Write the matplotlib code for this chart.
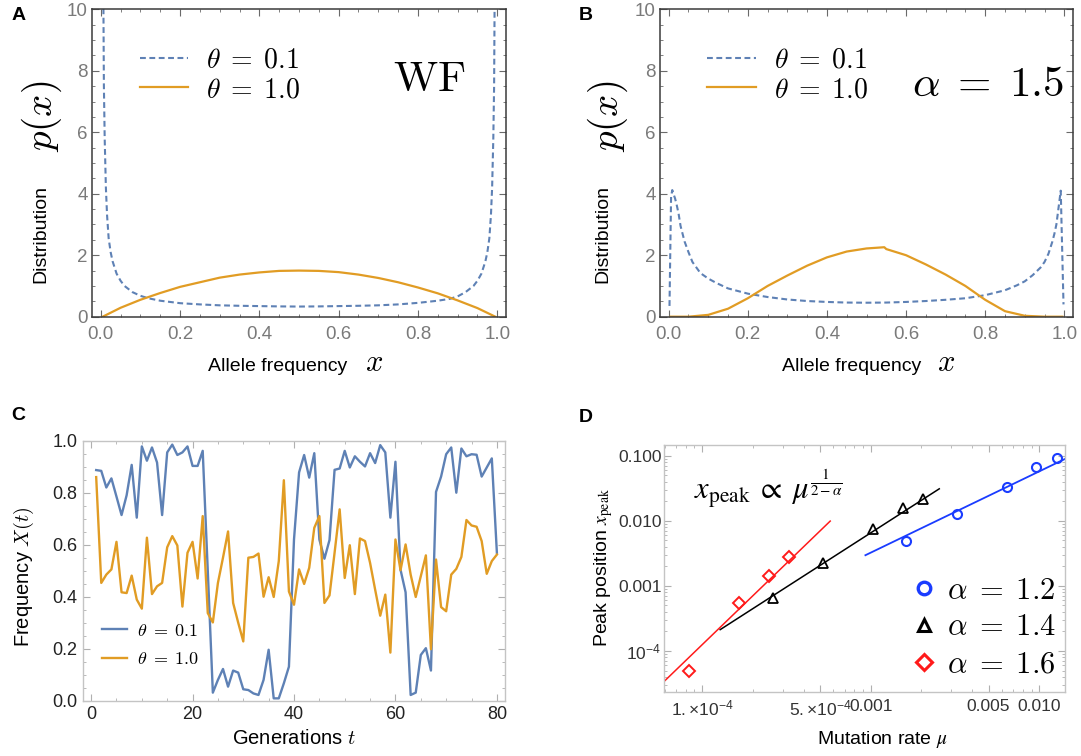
import numpy as np
import matplotlib
matplotlib.use('Agg')
import matplotlib.pyplot as plt
from matplotlib.lines import Line2D
from matplotlib.ticker import FixedLocator, MultipleLocator, NullFormatter, FixedFormatter

plt.rcParams['font.family'] = ['Liberation Sans', 'DejaVu Sans']
plt.rcParams['mathtext.fontset'] = 'cm'

BLUE = '#5E81B5'
ORANGE = '#E19C24'

# ---------------- Panel A data (WF) ----------------
a_blue_x = [0.005, 0.008, 0.01, 0.013, 0.016, 0.02, 0.025, 0.03, 0.04, 0.05, 0.06, 0.08,
            0.10, 0.12, 0.15, 0.20, 0.25, 0.30, 0.35, 0.40, 0.45, 0.50,
            0.55, 0.60, 0.65, 0.70, 0.75, 0.80, 0.85, 0.88, 0.90, 0.92, 0.94, 0.95,
            0.96, 0.97, 0.975, 0.98, 0.984, 0.987, 0.99, 0.992, 0.995]
a_blue_y = [14, 7.5, 5.8, 4.2, 3.3, 2.55, 2.1, 1.8, 1.4, 1.17, 1.0, 0.8,
            0.68, 0.6, 0.52, 0.44, 0.40, 0.37, 0.355, 0.345, 0.335, 0.33,
            0.335, 0.345, 0.355, 0.37, 0.40, 0.45, 0.52, 0.58, 0.66, 0.8, 1.0, 1.17,
            1.4, 1.8, 2.1, 2.55, 3.3, 4.2, 5.8, 7.5, 14]
a_orange_x = [0.005, 0.05, 0.10, 0.15, 0.20, 0.25, 0.30, 0.35, 0.40, 0.45, 0.50,
              0.55, 0.60, 0.65, 0.70, 0.75, 0.80, 0.85, 0.90, 0.95, 0.995]
a_orange_y = [0.0, 0.29, 0.55, 0.77, 0.97, 1.12, 1.27, 1.37, 1.44, 1.49, 1.50,
              1.49, 1.45, 1.37, 1.26, 1.12, 0.95, 0.76, 0.53, 0.28, 0.0]

# ---------------- Panel B data (alpha = 1.5) ----------------
b_blue_x = [0.002, 0.006, 0.009, 0.012, 0.016, 0.02, 0.025, 0.03, 0.04, 0.05, 0.06, 0.08,
            0.10, 0.12, 0.15, 0.20, 0.25, 0.30, 0.35, 0.40, 0.45, 0.50,
            0.55, 0.60, 0.65, 0.70, 0.75, 0.80, 0.85, 0.88, 0.90, 0.92, 0.94, 0.95,
            0.96, 0.97, 0.975, 0.98, 0.984, 0.988, 0.991, 0.998]
b_blue_y = [0.35, 3.9, 4.12, 4.0, 3.85, 3.65, 3.35, 2.95, 2.45, 2.1, 1.78, 1.42,
            1.24, 1.1, 0.92, 0.75, 0.64, 0.56, 0.51, 0.48, 0.46, 0.455,
            0.46, 0.48, 0.51, 0.55, 0.6, 0.7, 0.86, 1.02, 1.15, 1.35, 1.6, 1.78,
            2.05, 2.45, 2.7, 3.0, 3.4, 3.8, 4.1, 0.4]
b_orange_x = [0.005, 0.05, 0.10, 0.15, 0.20, 0.25, 0.30, 0.35, 0.40, 0.45, 0.50,
              0.545, 0.55, 0.60, 0.65, 0.70, 0.75, 0.80, 0.85, 0.90, 0.95, 0.995]
b_orange_y = [0.0, 0.0, 0.06, 0.26, 0.6, 1.0, 1.34, 1.66, 1.93, 2.12, 2.22,
              2.26, 2.2, 2.0, 1.7, 1.37, 1.0, 0.55, 0.18, 0.03, 0.0, 0.0]

# ---------------- Panel C data (trajectories) ----------------
c_t = list(range(1, 81))
c_blue = [0.887, 0.884, 0.82, 0.855, 0.785, 0.714, 0.79, 0.907, 0.704, 0.978,
          0.923, 0.974, 0.916, 0.714, 0.955, 0.985, 0.945, 0.955, 0.978, 0.903,
          0.903, 0.961, 0.50, 0.031, 0.08, 0.122, 0.054, 0.116, 0.108, 0.044,
          0.041, 0.028, 0.022, 0.08, 0.196, 0.009, 0.009, 0.067, 0.131, 0.62,
          0.878, 0.945, 0.858, 0.952, 0.62, 0.546, 0.618, 0.888, 0.893, 0.961,
          0.897, 0.94, 0.919, 0.901, 0.952, 0.914, 0.983, 0.955, 0.704, 0.919,
          0.504, 0.417, 0.022, 0.031, 0.176, 0.202, 0.116, 0.803, 0.862, 0.948,
          0.974, 0.80, 0.97, 0.94, 0.948, 0.946, 0.862, 0.897, 0.932, 0.569]
c_orange = [0.86, 0.453, 0.485, 0.505, 0.611, 0.417, 0.414, 0.481, 0.389, 0.354,
            0.627, 0.41, 0.44, 0.453, 0.59, 0.633, 0.597, 0.362, 0.569, 0.611,
            0.47, 0.71, 0.337, 0.301, 0.453, 0.55, 0.651, 0.376, 0.30, 0.228,
            0.55, 0.553, 0.566, 0.40, 0.475, 0.399, 0.537, 0.848, 0.42, 0.369,
            0.505, 0.449, 0.511, 0.665, 0.71, 0.376, 0.405, 0.569, 0.736, 0.472,
            0.598, 0.41, 0.624, 0.614, 0.53, 0.427, 0.327, 0.408, 0.185, 0.62,
            0.502, 0.601, 0.485, 0.399, 0.479, 0.559, 0.198, 0.543, 0.36, 0.344,
            0.485, 0.507, 0.553, 0.695, 0.674, 0.669, 0.614, 0.488, 0.537, 0.562]

# ---------------- Panel D data (peak position) ----------------
mu_12 = [1.62e-3, 3.23e-3, 6.41e-3, 9.6e-3, 1.27e-2]
xp_12 = [4.92e-3, 1.27e-2, 3.26e-2, 6.62e-2, 9.1e-2]
mu_14 = [2.62e-4, 5.21e-4, 1.03e-3, 1.55e-3, 2.05e-3]
xp_14 = [6.62e-4, 2.21e-3, 7.36e-3, 1.58e-2, 2.18e-2]
mu_16 = [8.35e-5, 1.66e-4, 2.48e-4, 3.29e-4]
xp_16 = [4.9e-5, 5.47e-4, 1.44e-3, 2.79e-3]
fit_12_mu = [9.3e-4, 1.45e-2]
fit_12_xp = [2.96e-3, 0.0915]
fit_14_mu = [1.28e-4, 2.55e-3]
fit_14_xp = [2.13e-4, 0.031]
fit_16_mu = [5.5e-5, 5.75e-4]
fit_16_xp = [2.8e-5, 9.9e-3]
d_xticks = [1e-4, 5e-4, 1e-3, 5e-3, 1e-2]
d_xticklabels = [r'$\mathregular{1.{\times}10^{-4}}$', r'$\mathregular{5.{\times}10^{-4}}$',
                 '0.001', '0.005', '0.010']
d_yticks = [1e-4, 1e-3, 1e-2, 1e-1]
d_yticklabels = [r'$\mathregular{10^{-4}}$', '0.001', '0.010', '0.100']

W, H = 1081, 756
fig = plt.figure(figsize=(W / 100, H / 100), dpi=100)


def add_ax(l, t, r, b):
    return fig.add_axes([l / W, 1 - b / H, (r - l) / W, (b - t) / H])


def ftext(x, y, s, **kw):
    fig.text(x / W, 1 - y / H, s, **kw)


# ---------------- A and B ----------------
def style_dist(ax):
    ax.set_xlim(-0.022, 1.022)
    ax.set_ylim(0, 10)
    ax.xaxis.set_minor_locator(MultipleLocator(0.05))
    ax.yaxis.set_minor_locator(MultipleLocator(0.5))
    ax.set_xticks([0, 0.2, 0.4, 0.6, 0.8, 1.0])
    ax.set_xticklabels(['0.0', '0.2', '0.4', '0.6', '0.8', '1.0'])
    ax.set_yticks([0, 2, 4, 6, 8, 10])
    ax.set_yticklabels(['0', '2', '4', '6', '8', '10'])
    for s in ax.spines.values():
        s.set_color('#3a3a3a')
        s.set_linewidth(1.1)
    ax.tick_params(which='both', direction='in', top=True, right=True, color='#6a6a6a')
    ax.tick_params(which='major', length=5, width=0.8, labelsize=13.5, labelcolor='#7a7a7a')
    ax.tick_params(axis='x', which='major', pad=7)
    ax.tick_params(axis='y', which='major', pad=3)
    ax.tick_params(which='minor', length=2.5, width=0.6)


axA = add_ax(92, 9.3, 506, 316.7)
axB = add_ax(660, 9.3, 1073, 316.7)
for ax, bx, by, ox, oy in [(axA, a_blue_x, a_blue_y, a_orange_x, a_orange_y),
                           (axB, b_blue_x, b_blue_y, b_orange_x, b_orange_y)]:
    style_dist(ax)
    lb, = ax.plot(bx, by, color=BLUE, lw=1.5, dashes=(2.8, 1.7), label=r'$\theta\;=\;0.1$')
    lo, = ax.plot(ox, oy, color=ORANGE, lw=1.6, label=r'$\theta\;=\;1.0$')
    ax.legend(handles=[lb, lo], loc='upper left', bbox_to_anchor=(0.115, 0.875), frameon=False,
              fontsize=20, handlelength=1.75, handletextpad=0.65, labelspacing=0.12,
              borderpad=0, borderaxespad=0)

axA.text(0.815, 0.77, r'$\mathrm{WF}$', transform=axA.transAxes, fontsize=31, ha='center', va='center')
axB.text(0.795, 0.755, r'$\alpha\;=\;1.5$', transform=axB.transAxes, fontsize=31, ha='center', va='center')

for cx in (42, 608):
    ftext(cx, 116, r'$p(x)$', fontsize=28, rotation=90, ha='center', va='center')
for cx in (41, 603):
    ftext(cx, 234, 'Distribution', fontsize=14, rotation=90, ha='center', va='center')
for cx1, cx2 in ((278, 374), (852, 946)):
    ftext(cx1, 371, 'Allele frequency', fontsize=14, ha='center', va='baseline')
    ftext(cx2, 371, r'$x$', fontsize=22, ha='center', va='baseline')

# ---------------- C ----------------
axC = add_ax(83, 440.7, 505, 700.7)
axC.plot(c_t, c_blue, color=BLUE, lw=1.7, label=r'$\theta\;=\;0.1$')
axC.plot(c_t, c_orange, color=ORANGE, lw=1.7, label=r'$\theta\;=\;1.0$')
axC.set_xlim(-1.6, 81.6)
axC.set_ylim(0, 1)
axC.xaxis.set_major_locator(MultipleLocator(20))
axC.xaxis.set_minor_locator(MultipleLocator(5))
axC.yaxis.set_minor_locator(MultipleLocator(0.05))
axC.set_yticks([0, 0.2, 0.4, 0.6, 0.8, 1.0])
axC.set_yticklabels(['0.0', '0.2', '0.4', '0.6', '0.8', '1.0'])
for s in axC.spines.values():
    s.set_color('#c4c4c4')
    s.set_linewidth(1.0)
axC.tick_params(which='both', direction='in', top=True, right=True, color='#b0b0b0')
axC.tick_params(which='major', length=5, width=0.8, labelsize=13, labelcolor='#222222', pad=4)
axC.tick_params(which='minor', length=2.5, width=0.6)
axC.legend(loc='upper left', bbox_to_anchor=(0.045, 0.30), frameon=False, fontsize=13,
           handlelength=1.4, handletextpad=0.55, labelspacing=0.65, borderpad=0, borderaxespad=0)
ftext(23.5, 577, r'Frequency $X(t)$', fontsize=14.5, rotation=90, ha='center', va='center')
ftext(294, 738, r'Generations $t$', fontsize=14.5, ha='center', va='center')

# ---------------- D ----------------
axD = add_ax(663.5, 445, 1065, 691.7)
axD.set_xscale('log')
axD.set_yscale('log')
axD.plot(fit_16_mu, fit_16_xp, color='#FF1A1A', lw=1.1)
axD.plot(fit_14_mu, fit_14_xp, color='black', lw=1.1)
axD.plot(fit_12_mu, fit_12_xp, color='#1A3CFF', lw=1.3)
axD.plot(mu_16, xp_16, ls='none', marker='D', ms=6, mfc='none', mec='#FF1A1A', mew=1.4)
axD.plot(mu_14, xp_14, ls='none', marker='^', ms=6.5, mfc='none', mec='black', mew=1.3)
axD.plot(mu_12, xp_12, ls='none', marker='o', ms=6.5, mfc='none', mec='#1A3CFF', mew=1.5)
axD.set_xlim(5.9e-5, 1.42e-2)
axD.set_ylim(2.37e-5, 0.146)
axD.xaxis.set_major_locator(FixedLocator(d_xticks))
axD.xaxis.set_major_formatter(FixedFormatter(d_xticklabels))
xminor = [m * 10.0 ** e for e in (-5, -4, -3, -2) for m in (2, 3, 4, 6, 7, 8, 9)]
axD.xaxis.set_minor_locator(FixedLocator(xminor))
axD.xaxis.set_minor_formatter(NullFormatter())
axD.yaxis.set_major_locator(FixedLocator(d_yticks))
axD.yaxis.set_major_formatter(FixedFormatter(d_yticklabels))
yminor = [m * 10.0 ** e for e in (-5, -4, -3, -2, -1) for m in (2, 3, 4, 5, 6, 7, 8, 9)]
axD.yaxis.set_minor_locator(FixedLocator(yminor))
axD.yaxis.set_minor_formatter(NullFormatter())
for s in axD.spines.values():
    s.set_color('#c4c4c4')
    s.set_linewidth(1.0)
axD.tick_params(which='both', direction='in', top=True, right=True, color='#b0b0b0')
axD.tick_params(which='major', length=5, width=0.8, labelsize=12.5, labelcolor='#333333')
axD.tick_params(axis='x', which='major', pad=5)
axD.tick_params(axis='y', which='major', pad=1.5)
axD.tick_params(which='minor', length=2.5, width=0.6)

hd = [Line2D([], [], ls='none', marker='o', ms=9, mfc='none', mec='#1A3CFF', mew=2.4),
      Line2D([], [], ls='none', marker='^', ms=9, mfc='none', mec='black', mew=2.2),
      Line2D([], [], ls='none', marker='D', ms=8, mfc='none', mec='#FF1A1A', mew=2.2)]
axD.legend(hd, [r'$\alpha\;=\;1.2$', r'$\alpha\;=\;1.4$', r'$\alpha\;=\;1.6$'], loc='upper left',
           bbox_to_anchor=(0.625, 0.47), frameon=False, fontsize=22, handlelength=0.6,
           handletextpad=0.45, labelspacing=0.22, borderpad=0, borderaxespad=0)
axD.text(0.26, 0.82, r'$x_{\mathrm{peak}}\;\propto\;\mu^{\frac{1}{2-\alpha}}$', transform=axD.transAxes,
         fontsize=22, ha='center', va='center', math_fontfamily='stix')
ftext(604, 568, r'Peak position $x_{\mathrm{peak}}$', fontsize=14, rotation=90, ha='center',
      va='center', math_fontfamily='stix')
ftext(882, 740, r'Mutation rate $\mu$', fontsize=14, ha='center', va='center', math_fontfamily='stix')

# ---------------- panel letters ----------------
for lab, (x, y) in zip('ABCD', [(18.5, 15), (586, 15), (18, 416), (586, 417)]):
    ftext(x, y, lab, fontsize=14, fontweight='bold', ha='center', va='center')

fig.savefig('out.png', dpi=100)
